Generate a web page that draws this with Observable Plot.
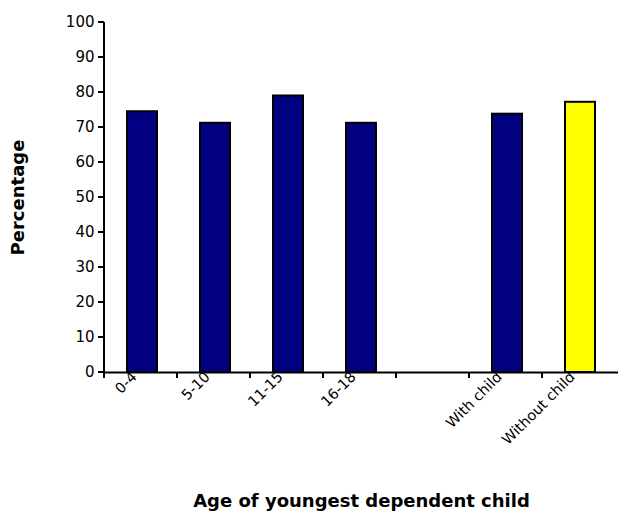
<!DOCTYPE html>
<html>
<head>
<meta charset="UTF-8">
<script src="https://cdn.jsdelivr.net/npm/d3@7"></script>
<script src="https://cdn.jsdelivr.net/npm/@observablehq/plot@0.6/dist/plot.umd.min.js"></script>
<style>body{margin:0;background:#fff}</style>
</head>
<body>
<div id="chart"></div>
<script>
const categories = ["0-4", "5-10", "11-15", "16-18", "", "With child", "Without child"];
const values = [74.5, 71.2, 79, 71.2, null, 73.8, 77.2];
const fills = ["#000080", "#000080", "#000080", "#000080", null, "#000080", "#ffff00"];
const yTicks = d3.range(0, 101, 10);

const data = categories.map((c, i) => ({cat: c, v: values[i], fill: fills[i]})).filter(d => d.v != null);

const plot = Plot.plot({
  width: 638, height: 513,
  marginLeft: 104, marginRight: 20, marginTop: 22, marginBottom: 141,
  style: {fontFamily: "DejaVu Sans, sans-serif", fontSize: "15px", color: "#000"},
  x: {domain: categories, paddingInner: 0.59, paddingOuter: 0.295, label: null},
  y: {domain: [0, 100], ticks: yTicks, label: null},
  marks: [
    Plot.barY(data, {x: "cat", y: "v", fill: "fill", stroke: "#000", strokeWidth: 2}),
    Plot.axisX({tickSize: 0, tickRotate: -45, tickPadding: 2, fontSize: 14.5, dx: -8}),
    Plot.axisY({tickSize: 0, tickPadding: 10, tickFormat: d => d, fontSize: 15}),
    Plot.ruleY([0], {strokeWidth: 2}),
    Plot.text(["Age of youngest dependent child"], {frameAnchor: "bottom", dy: 134, fontWeight: "bold", fontSize: 18}),
    Plot.text(["Percentage"], {frameAnchor: "left", textAnchor: "middle", dx: -86, rotate: -90, fontWeight: "bold", fontSize: 18})
  ]
});

// axis line and tick marks placed from the scales
const xs = plot.scale("x");
const ys = plot.scale("y");
const left = xs.range[0];
const y0 = ys.apply(0);
const g = d3.select(plot).append("g").attr("stroke", "#000").attr("stroke-width", 2);
for (let i = 0; i < categories.length; i++) {
  const x = left + i * xs.step;
  g.append("line").attr("x1", x).attr("x2", x).attr("y1", y0).attr("y2", y0 + 6);
}
for (const t of yTicks) {
  const y = ys.apply(t);
  g.append("line").attr("x1", left - 6).attr("x2", left).attr("y1", y).attr("y2", y);
}
g.append("line").attr("x1", left).attr("x2", left).attr("y1", ys.apply(100)).attr("y2", y0);
document.getElementById("chart").append(plot);
</script>
</body>
</html>
